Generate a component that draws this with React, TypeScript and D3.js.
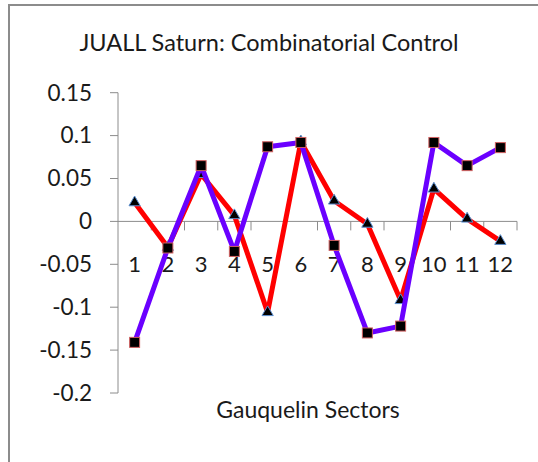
import React, { useEffect, useRef } from "react"
import * as d3 from "d3"

const sectors = ["1", "2", "3", "4", "5", "6", "7", "8", "9", "10", "11", "12"]
// red line, triangle markers
const redValues = [0.022, -0.03, 0.055, 0.007, -0.106, 0.093, 0.024, -0.003, -0.092, 0.038, 0.003, -0.023]
// purple line, square markers
const purpleValues = [-0.141, -0.031, 0.065, -0.035, 0.087, 0.092, -0.028, -0.13, -0.122, 0.092, 0.065, 0.086]
const yTicks = [0.15, 0.1, 0.05, 0, -0.05, -0.1, -0.15, -0.2]

const W = 538
const H = 462
const FONT = "Lato, 'Open Sans', sans-serif"

function App() {
  const svgRef = useRef<SVGSVGElement>(null)

  useEffect(() => {
    const svg = d3.select(svgRef.current)
    svg.selectAll("*").remove()

    // chart frame (only top and left show in the crop)
    svg.append("rect")
      .attr("x", 9).attr("y", 5)
      .attr("width", W + 20).attr("height", H + 20)
      .attr("fill", "white")
      .attr("stroke", "#8c8c8c").attr("stroke-width", 2)

    const left = 118, right = 517, top = 92.7, bottom = 393
    const x = d3.scaleBand().domain(sectors).range([left, right])
    const y = d3.scaleLinear().domain([-0.2, 0.15]).range([bottom, top])

    svg.append("text")
      .attr("x", 269).attr("y", 51)
      .attr("text-anchor", "middle")
      .attr("font-family", FONT).attr("font-size", 23.5)
      .attr("fill", "#1a1a1a")
      .text("JUALL Saturn: Combinatorial Control")

    // y axis
    const axisColor = "#8c8c8c"
    svg.append("line")
      .attr("x1", left).attr("x2", left)
      .attr("y1", y(0.15)).attr("y2", y(-0.2))
      .attr("stroke", axisColor).attr("stroke-width", 1)
    yTicks.forEach(t => {
      svg.append("line")
        .attr("x1", left - 8).attr("x2", left)
        .attr("y1", y(t)).attr("y2", y(t))
        .attr("stroke", axisColor)
      svg.append("text")
        .attr("x", 92).attr("y", y(t))
        .attr("dy", "0.35em")
        .attr("text-anchor", "end")
        .attr("font-family", FONT).attr("font-size", 22.5)
        .attr("fill", "#1a1a1a")
        .text(String(t))
    })

    // x axis at zero
    svg.append("line")
      .attr("x1", left).attr("x2", right)
      .attr("y1", y(0)).attr("y2", y(0))
      .attr("stroke", axisColor)
    sectors.forEach((s, i) => {
      const xt = left + x.step() * (i + 1)
      svg.append("line")
        .attr("x1", xt).attr("x2", xt)
        .attr("y1", y(0)).attr("y2", y(0) + 9)
        .attr("stroke", axisColor)
      svg.append("text")
        .attr("x", (x(s) ?? 0) + x.bandwidth() / 2).attr("y", 272)
        .attr("text-anchor", "middle")
        .attr("font-family", FONT).attr("font-size", 22)
        .attr("fill", "#1a1a1a")
        .text(s)
    })

    svg.append("text")
      .attr("x", 308).attr("y", 418)
      .attr("text-anchor", "middle")
      .attr("font-family", FONT).attr("font-size", 23)
      .attr("fill", "#1a1a1a")
      .text("Gauquelin Sectors")

    const cx = (i: number) => (x(sectors[i]) ?? 0) + x.bandwidth() / 2
    const line = d3.line<number>()
      .x((d, i) => cx(i))
      .y(d => y(d))

    // red series with triangles
    svg.append("path")
      .datum(redValues)
      .attr("d", line)
      .attr("fill", "none")
      .attr("stroke", "#ff0000").attr("stroke-width", 5)
      .attr("stroke-linejoin", "round")
    const tri = d3.symbol().type(d3.symbolTriangle).size(55)
    svg.selectAll(".tri")
      .data(redValues)
      .enter().append("path")
        .attr("class", "tri")
        .attr("d", tri)
        .attr("transform", (d, i) => `translate(${cx(i)},${y(d)})`)
        .attr("fill", "black")
        .attr("stroke", "#5b8fd0").attr("stroke-width", 1)

    // purple series with squares
    svg.append("path")
      .datum(purpleValues)
      .attr("d", line)
      .attr("fill", "none")
      .attr("stroke", "#6a00ff").attr("stroke-width", 5)
      .attr("stroke-linejoin", "round")
    svg.selectAll(".sq")
      .data(purpleValues)
      .enter().append("rect")
        .attr("class", "sq")
        .attr("x", (d, i) => cx(i) - 5)
        .attr("y", d => y(d) - 5)
        .attr("width", 10).attr("height", 10)
        .attr("fill", "black")
        .attr("stroke", "#d06060").attr("stroke-width", 1)
  }, [])

  return (
    <svg ref={svgRef} width={W} height={H}
      style={{ position: "absolute", left: 0, top: 0, background: "white" }} />
  )
}

export default App
